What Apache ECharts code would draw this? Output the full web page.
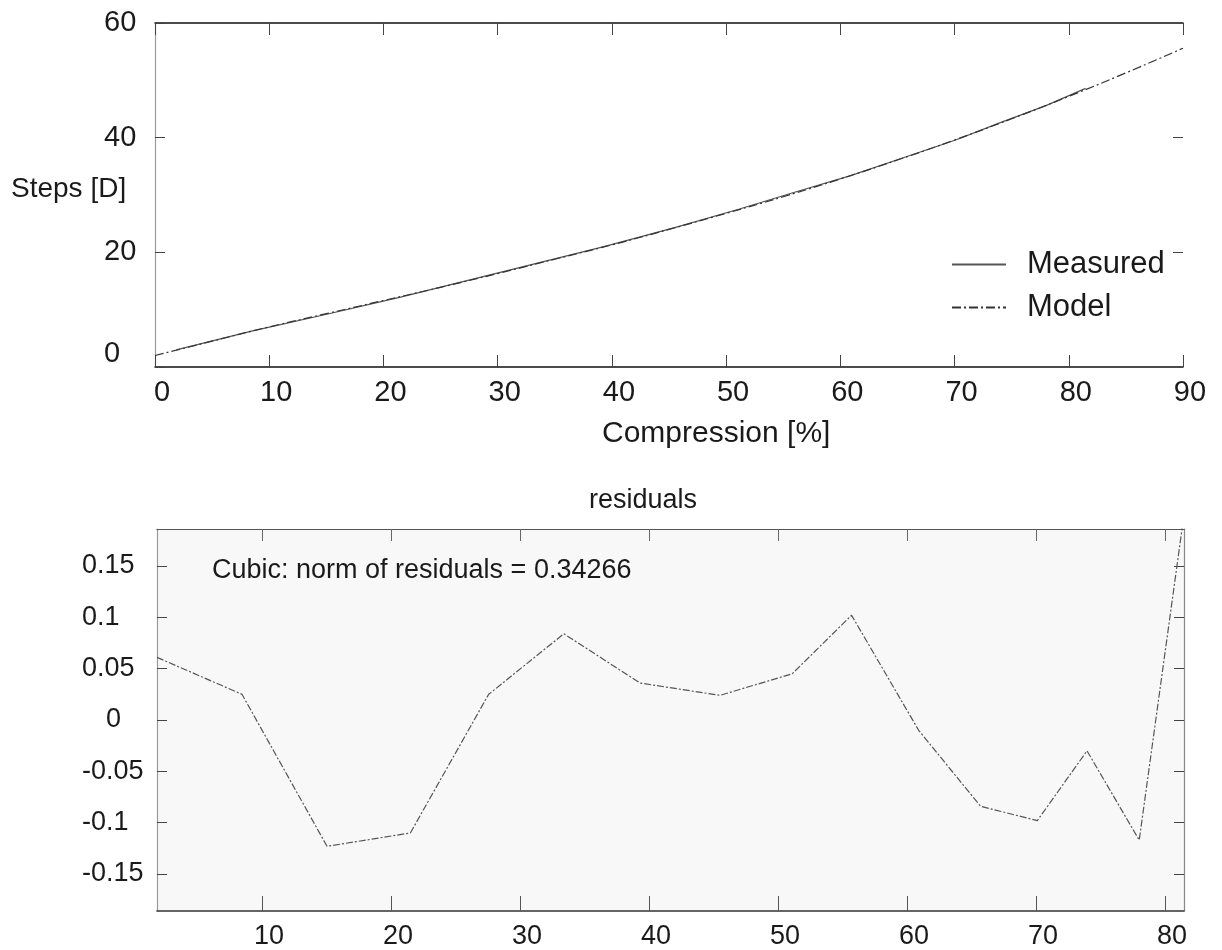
<!DOCTYPE html>
<html>
<head>
<meta charset="utf-8">
<script src="https://cdn.jsdelivr.net/npm/echarts@6/dist/echarts.min.js"></script>
<style>
  html, body { margin: 0; padding: 0; background: #ffffff; }
  #chart { width: 1222px; height: 950px; }
</style>
</head>
<body>
<div id="chart"></div>
<script>
const FONT = "'Liberation Sans', Arial, Helvetica, sans-serif";
const INK = '#1a1a1a';

// Measured steps against compression
const measuredX = [1.86, 8.45, 15.04, 21.5, 27.57, 33.4, 39.3, 45.5, 51.1, 55.7, 60.9, 65.7, 70.1, 73.95, 78.0, 81.47];
const measuredY = [2.99, 6.26, 9.20, 12.19, 15.19, 18.08, 20.99, 24.32, 27.51, 30.30, 33.39, 36.62, 39.60, 42.57, 45.58, 48.60];

// Cubic model evaluated across the full compression range
const modelX = [0, 5, 10, 15, 20, 25, 30, 35, 40, 45, 50, 55, 60, 65, 70, 75, 80, 85, 90];
const modelY = [2.0, 4.5, 7.0, 9.3, 11.6, 13.9, 16.3, 18.8, 21.3, 24.0, 26.8, 29.7, 32.8, 36.1, 39.6, 43.3, 47.2, 51.3, 55.6];

// Residuals of the cubic fit at the measured compressions
const residualY = [0.061, 0.025, -0.123, -0.110, 0.025, 0.084, 0.036, 0.024, 0.045, 0.102, -0.010, -0.084, -0.098, -0.030, -0.117, 0.200];

// Tick labels
const stepRightTicks = [20, 40];
const residualXTicks = [10, 20, 30, 40, 50, 60, 70, 80];
const residualYTicks = [-0.15, -0.1, -0.05, 0, 0.05, 0.1, 0.15];

const zip = (xs, ys) => xs.map((x, i) => [x, ys[i]]);

const chart = echarts.init(document.getElementById('chart'), null, { renderer: 'canvas' });

const labelTop = { fontFamily: FONT, fontSize: 29, color: INK };
const labelBottom = { fontFamily: FONT, fontSize: 27, color: INK };
const plainTitle = (size) => ({ fontFamily: FONT, fontSize: size, fontWeight: 'normal', color: INK });

const option = {
  animation: false,
  backgroundColor: '#ffffff',
  textStyle: { fontFamily: FONT },
  title: [
    { text: 'Steps [D]', left: 6, top: 170, textStyle: plainTitle(28) },
    { text: 'Compression [%]', left: 597, top: 414, textStyle: plainTitle(30) },
    { text: 'residuals', left: 584, top: 482, textStyle: plainTitle(27) },
    { text: 'Cubic: norm of residuals = 0.34266', left: 207, top: 552, textStyle: plainTitle(27) }
  ],
  legend: {
    orient: 'vertical',
    left: 946,
    top: 244,
    itemWidth: 54,
    itemHeight: 14,
    itemGap: 12,
    data: ['Measured', 'Model'],
    itemStyle: { opacity: 0 },
    textStyle: { fontFamily: FONT, fontSize: 31, color: INK, lineHeight: 29, padding: [0, 0, 0, 16] }
  },
  grid: [
    { left: 155, top: 23, width: 1028, height: 344, containLabel: false },
    { left: 157, top: 529, width: 1027, height: 382, containLabel: false, show: true, backgroundColor: '#f8f8f8', borderWidth: 0 }
  ],
  xAxis: [
    {
      type: 'value', gridIndex: 0, min: 0, max: 90, interval: 10,
      axisLine: { onZero: false, lineStyle: { color: '#111', width: 1.5 } },
      axisTick: { inside: true, length: 12, lineStyle: { color: '#444' } },
      axisLabel: Object.assign({ margin: 11, padding: [0, 0, 0, 14] }, labelTop),
      splitLine: { show: false }
    },
    {
      type: 'value', gridIndex: 0, position: 'top', min: 0, max: 90, interval: 10,
      axisLine: { onZero: false, lineStyle: { color: '#111', width: 1.5 } },
      axisTick: { inside: true, length: 12, lineStyle: { color: '#444' } },
      axisLabel: { show: false },
      splitLine: { show: false }
    },
    {
      type: 'value', gridIndex: 1, min: 1.86, max: 81.47,
      axisLine: { onZero: false, lineStyle: { color: '#333', width: 1.5 } },
      axisTick: { inside: true, length: 15, customValues: residualXTicks, lineStyle: { color: '#555' } },
      axisLabel: Object.assign({ margin: 12, padding: [0, 0, 0, 14], customValues: residualXTicks }, labelBottom),
      splitLine: { show: false }
    },
    {
      type: 'value', gridIndex: 1, position: 'top', min: 1.86, max: 81.47,
      axisLine: { onZero: false, lineStyle: { color: '#555', width: 1.2 } },
      axisTick: { inside: true, length: 12, customValues: residualXTicks, lineStyle: { color: '#666' } },
      axisLabel: { show: false },
      splitLine: { show: false }
    }
  ],
  yAxis: [
    {
      type: 'value', gridIndex: 0, min: 0, max: 60, interval: 20,
      axisLine: { show: true, onZero: false, lineStyle: { color: '#9a9a9a', width: 1.2 } },
      axisTick: { inside: true, length: 10, lineStyle: { color: '#444' } },
      axisLabel: Object.assign({
        align: 'left', margin: 51,
        formatter: v => (v === 0 ? '{z|0}' : String(v)),
        rich: { z: { fontFamily: FONT, fontSize: 29, color: INK, padding: [0, 0, 27, 0] } }
      }, labelTop),
      splitLine: { show: false }
    },
    {
      type: 'value', gridIndex: 0, position: 'right', min: 0, max: 60, interval: 20,
      axisLine: { show: false, onZero: false },
      axisTick: { show: true, inside: true, length: 10, customValues: stepRightTicks, lineStyle: { color: '#444' } },
      axisLabel: { show: false },
      splitLine: { show: false }
    },
    {
      type: 'value', gridIndex: 1, min: -0.186, max: 0.186,
      axisLine: { show: true, onZero: false, lineStyle: { color: '#999', width: 1.2 } },
      axisTick: { inside: true, length: 10, customValues: residualYTicks, lineStyle: { color: '#444' } },
      axisLabel: Object.assign({
        align: 'left', margin: 75, customValues: residualYTicks,
        formatter: v => (v === 0 ? '{z|0}' : String(v)),
        rich: { z: { fontFamily: FONT, fontSize: 27, color: INK, padding: [0, 0, 0, 24] } }
      }, labelBottom),
      splitLine: { show: false }
    },
    {
      type: 'value', gridIndex: 1, position: 'right', min: -0.186, max: 0.186,
      axisLine: { show: true, onZero: false, lineStyle: { color: '#888', width: 1.2 } },
      axisTick: { inside: true, length: 10, customValues: residualYTicks, lineStyle: { color: '#444' } },
      axisLabel: { show: false },
      splitLine: { show: false }
    }
  ],
  series: [
    {
      name: 'Measured', type: 'line', xAxisIndex: 0, yAxisIndex: 0,
      data: zip(measuredX, measuredY),
      symbol: 'none', color: '#555',
      lineStyle: { color: '#555', width: 1.2, type: 'solid' }
    },
    {
      name: 'Model', type: 'line', xAxisIndex: 0, yAxisIndex: 0,
      data: zip(modelX, modelY),
      smooth: true, symbol: 'none', color: '#333',
      lineStyle: { color: '#333', width: 1.2, type: [9, 3, 2, 3] }
    },
    {
      name: 'residuals', type: 'line', xAxisIndex: 2, yAxisIndex: 2,
      data: zip(measuredX, residualY),
      symbol: 'none', clip: true,
      lineStyle: { color: '#555', width: 1.2, type: [7, 2, 2, 2] }
    }
  ]
};

chart.setOption(option);
</script>
</body>
</html>
